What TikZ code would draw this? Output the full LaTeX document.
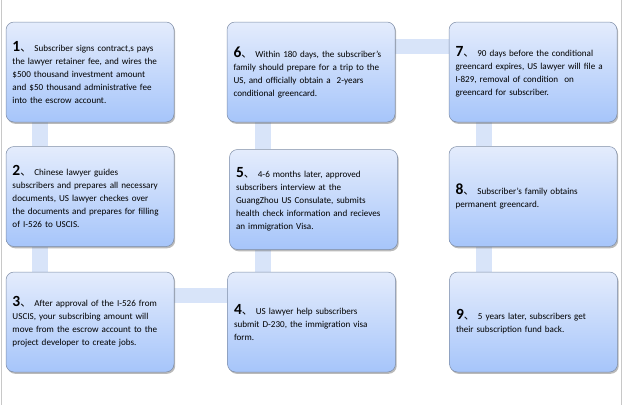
\documentclass[tikz,border=0pt]{standalone}
\usepackage{fontspec}
\setmainfont{Carlito}
\newfontfamily\cjk{Noto Sans CJK SC}
\usetikzlibrary{shadows,backgrounds}
\definecolor{boxtop}{RGB}{228,236,252}
\definecolor{boxbot}{RGB}{166,197,250}
\definecolor{boxline}{RGB}{125,140,165}
\definecolor{barcol}{RGB}{216,228,249}
\definecolor{framecol}{RGB}{200,200,200}
\newcommand{\stepnum}[1]{{\fontsize{15.5}{15}\selectfont\bfseries #1}{\cjk\fontsize{11}{11}\selectfont 、}\hspace{3pt}}
\tikzset{
  x=1pt, y=-1pt,
  stepbox/.style={rectangle, rounded corners=8pt, draw=boxline, line width=0.5pt,
    top color=boxtop, bottom color=boxbot,
    minimum width=168pt, minimum height=100pt, text width=155pt, inner xsep=6.5pt,
    align=left, font=\fontsize{9.1}{13}\selectfont,
    drop shadow={shadow xshift=1.2pt, shadow yshift=-1.8pt, opacity=0.45, fill=black!60}},
  vbar/.style={draw=barcol, line width=16pt},
  hbar/.style={draw=barcol, line width=15pt},
}
\begin{document}
\begin{tikzpicture}
\useasboundingbox (0,0) rectangle (624,405);
\draw[framecol, line width=0.8pt] (1,0) -- (1,405);
\draw[framecol, line width=0.8pt] (621,0) -- (621,405);

\node[stepbox] (b1) at (90,72) {\stepnum{1}Subscriber signs contract,s pays\\the lawyer retainer fee, and wires the\\\$500 thousand investment amount\\and \$50 thousand administrative fee\\into the escrow account.};
\node[stepbox] (b2) at (90,196.5) {\stepnum{2}Chinese lawyer guides\\subscribers and prepares all necessary\\documents, US lawyer checkes over\\the documents and prepares for filling\\of I-526 to USCIS.};
\node[stepbox] (b3) at (90,322) {\stepnum{3}After approval of the I-526 from\\USCIS, your subscribing amount will\\move from the escrow account to the\\project developer to create jobs.};
\node[stepbox] (b4) at (311.5,322) {\stepnum{4}US lawyer help subscribers\\submit D-230, the immigration visa\\form.};
\node[stepbox] (b5) at (313.5,199.5) {\stepnum{5}4-6 months later, approved\\subscribers interview at the\\GuangZhou US Consulate, submits\\health check information and recieves\\an immigration Visa.};
\node[stepbox] (b6) at (311,72) {\stepnum{6}Within 180 days, the subscriber's\\family should prepare for a trip to the\\US, and officially obtain a~ 2-years\\conditional greencard.};
\node[stepbox] (b7) at (533,72) {\stepnum{7}90 days before the conditional\\greencard expires, US lawyer will file a\\I-829, removal of condition~ on\\greencard for subscriber.};
\node[stepbox] (b8) at (533,196.5) {\stepnum{8}Subscriber's family obtains\\permanent greencard.};
\node[stepbox] (b9) at (533.5,322) {\stepnum{9}5 years later, subscribers get\\their subscription fund back.};

\begin{pgfonlayer}{background}
\draw[vbar] ([xshift=-50pt]b1.south) -- ([xshift=-50pt]b2.north);
\draw[vbar] ([xshift=-50pt]b2.south) -- ([xshift=-50pt]b3.north);
\draw[hbar] ([yshift=26.5pt]b3.east) -- ([yshift=26.5pt]b3.east -| b4.west);
\draw[vbar] ([xshift=-48.5pt]b4.north) -- ([xshift=-48.5pt]b4.north |- b5.south);
\draw[vbar] ([xshift=-50.5pt]b5.north) -- ([xshift=-50.5pt]b5.north |- b6.south);
\draw[hbar] ([yshift=26pt]b6.east) -- ([yshift=26pt]b6.east -| b7.west);
\draw[vbar] ([xshift=-49.5pt]b7.south) -- ([xshift=-49.5pt]b8.north);
\draw[vbar] ([xshift=-49.5pt]b8.south) -- ([xshift=-50pt]b9.north);
\end{pgfonlayer}
\end{tikzpicture}
\end{document}
